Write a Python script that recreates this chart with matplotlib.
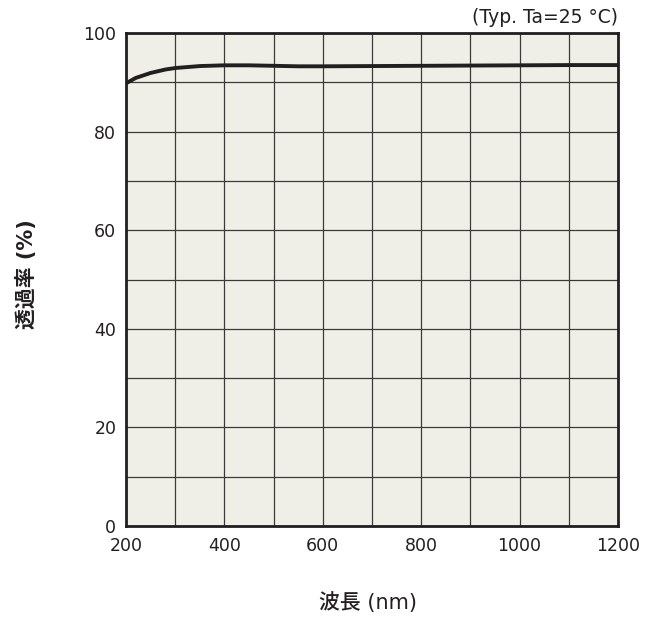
import matplotlib.pyplot as plt
import numpy as np

plt.rcParams['font.family'] = ['DejaVu Sans', 'Noto Sans CJK JP']

# 波長 (nm) と 透過率 (%)
wavelength = [200, 220, 250, 280, 300, 350, 400, 450, 500, 550, 600, 700, 800, 900, 1000, 1100, 1200]
transmit = [89.8, 90.9, 91.9, 92.6, 92.9, 93.3, 93.45, 93.45, 93.35, 93.25, 93.25, 93.3, 93.35, 93.4, 93.45, 93.5, 93.5]

xticks = [200, 400, 600, 800, 1000, 1200]
yticks = [0, 20, 40, 60, 80, 100]

fig = plt.figure(figsize=(6.58, 6.22), dpi=100)
ax = fig.add_axes([0.1915, 0.1543, 0.7477, 0.7926])
ax.set_facecolor('#f0efe7')

ax.plot(wavelength, transmit, color='#231f20', lw=2.8, solid_capstyle='butt')

ax.set_xlim(200, 1200)
ax.set_ylim(0, 100)
ax.set_xticks(np.arange(200, 1201, 100))
ax.set_yticks(np.arange(0, 101, 10))
ax.set_xticklabels([str(v) if v in xticks else '' for v in range(200, 1201, 100)])
ax.set_yticklabels([str(v) if v in yticks else '' for v in range(0, 101, 10)])
ax.grid(True, color='#3a3a3a', lw=0.9)
ax.tick_params(length=0, labelsize=12.5, colors='#231f20')
ax.tick_params(axis='x', pad=8)
ax.tick_params(axis='y', pad=7)
for s in ax.spines.values():
    s.set_color('#231f20')
    s.set_linewidth(2)

fig.text(0.56, 0.032, '波長 (nm)', ha='center', va='center', fontsize=15,
         fontweight='medium', color='#231f20')
fig.text(0.04, 0.56, '透過率 (%)', ha='center', va='center', rotation=90,
         fontsize=15, fontweight='bold', color='#231f20')
ax.text(1.0, 1.012, '(Typ. Ta=25 °C)', transform=ax.transAxes, ha='right', va='bottom',
        fontsize=13.5, color='#231f20')

fig.savefig('out.png', dpi=100)
